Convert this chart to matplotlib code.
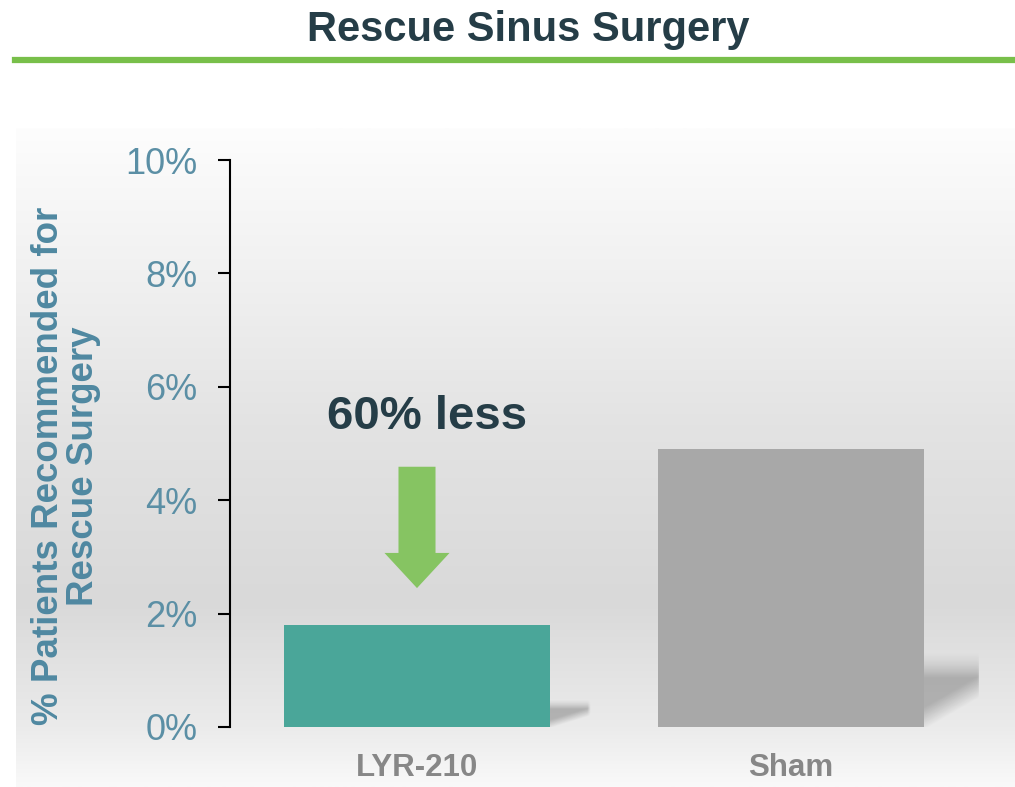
import numpy as np
import matplotlib.pyplot as plt
from matplotlib.patches import FancyArrow
from matplotlib.lines import Line2D
from matplotlib.colors import LinearSegmentedColormap

# data
categories = ['LYR-210', 'Sham']
values = [1.8, 4.9]          # % of patients
bar_colors = ['#4aa699', '#a8a8a8']
yticks = [0, 2, 4, 6, 8, 10]
ytick_labels = ['0%', '2%', '4%', '6%', '8%', '10%']
title = 'Rescue Sinus Surgery'
ylabel = '% Patients Recommended for\nRescue Surgery'
callout = '60% less'

plt.rcParams['font.family'] = ['Liberation Sans', 'DejaVu Sans']

W, H = 1015, 787
fig = plt.figure(figsize=(W / 100, H / 100), dpi=100)

# grey gradient panel behind the plot
bg = fig.add_axes([16 / W, 0, 1 - 16 / W, (H - 128) / H])
bg_cmap = LinearSegmentedColormap.from_list('bg', [
    (0.0, '#f9f9f9'), (0.09, '#ebebeb'), (0.28, '#d9d9d9'),
    (0.55, '#e3e3e3'), (0.75, '#efefef'), (1.0, '#fdfdfd')])
grad = np.linspace(0, 1, 256).reshape(-1, 1)
bg.imshow(grad, cmap=bg_cmap, aspect='auto', origin='lower', extent=[0, 1, 0, 1])
bg.set_axis_off()

# title and green rule
fig.text(528 / W, 1 - 41 / H, title, ha='center', va='baseline',
         fontsize=30, fontweight='bold', color='#253d47')
fig.add_artist(Line2D([15 / W, 1], [1 - 59.5 / H] * 2, color='#78bf4a', lw=4.5,
                      transform=fig.transFigure))

ax = fig.add_axes([230 / W, 60 / H, 748 / W, 567 / H])
ax.set_facecolor('none')
x = np.arange(len(categories))
bw = 0.711
ax.bar(x, values, width=bw, color=bar_colors, zorder=3)

# soft shadows to the right of each bar
u, f = np.meshgrid(np.linspace(0, 1, 80), np.linspace(0, 1, 80))
diag = np.clip((f - 0.45 * (u - 0.1)) / 0.3, 0, 1)
vert = np.where(f < 0.65, 1.0, np.clip((1 - f) / 0.35, 0, 1) ** 1.5)
side = np.clip((1 - u) / 0.08, 0, 1)
shadow = np.zeros((80, 80, 4))
shadow[..., 3] = 0.24 * diag * vert * side
for xi, v in zip(x, values):
    xr = xi + bw / 2
    ax.imshow(shadow, extent=[xr, xr + 0.08 + 0.015 * v, 0, 0.27 * v],
              origin='lower', aspect='auto', zorder=2, interpolation='bilinear')

# callout arrow and text
ax.add_patch(FancyArrow(0.0, 4.59, 0, -2.14, width=0.099, head_width=0.174,
                        head_length=0.62, length_includes_head=True,
                        color='#86c462', lw=0, zorder=4))
ax.text(0.027, 5.47, callout, ha='center', va='center', fontsize=34,
        fontweight='bold', color='#253d47')

ax.set_xlim(-0.5, 1.5)
ax.set_ylim(0, 10)
ax.set_yticks(yticks)
ax.set_yticklabels(ytick_labels)
ax.set_xticks(x)
ax.set_xticklabels(categories, fontweight='bold', fontsize=22.5, color='#878787')
ax.tick_params(axis='x', length=0, pad=18.5)
ax.tick_params(axis='y', length=8.6, width=1.5, pad=15, labelsize=26,
               labelcolor='#5b8fa5', color='black')
for s in ['top', 'right', 'bottom']:
    ax.spines[s].set_visible(False)
ax.spines['left'].set_linewidth(1.5)

fig.text(66 / W, 1 - 466 / H, ylabel, rotation=90, ha='center', va='center',
         multialignment='center', fontsize=26.5, fontweight='bold',
         color='#4f88a1', linespacing=1.0)

fig.savefig('out.png', dpi=100)
